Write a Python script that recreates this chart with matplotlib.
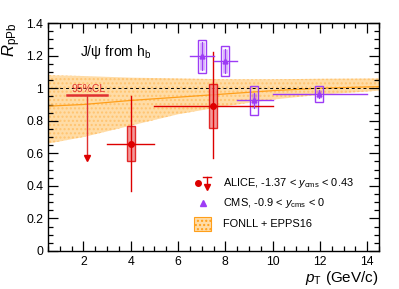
import matplotlib
matplotlib.use("Agg")
import matplotlib.pyplot as plt
from matplotlib.patches import Rectangle
from matplotlib.ticker import MultipleLocator
import numpy as np

plt.rcParams['font.family'] = ['Liberation Sans', 'DejaVu Sans']
plt.rcParams['mathtext.fontset'] = 'custom'
plt.rcParams['mathtext.rm'] = 'Liberation Sans'
plt.rcParams['mathtext.it'] = 'Liberation Sans:italic'

# ---- data ----
# FONLL + EPPS16 band
fonll_pt = [0.5, 2, 4, 6, 8, 10, 12, 14.5]
fonll_hi = [1.08, 1.075, 1.065, 1.06, 1.055, 1.055, 1.058, 1.06]
fonll_lo = [0.66, 0.70, 0.77, 0.84, 0.89, 0.93, 0.96, 0.985]
fonll_c = [0.89, 0.90, 0.925, 0.945, 0.965, 0.985, 1.0, 1.01]

# ALICE measurements
alice_pt = [4.0, 7.47]
alice_ptlo = [3.0, 5.0]
alice_pthi = [5.0, 10.0]
alice_val = [0.66, 0.89]
alice_stat_up = [0.29, 0.33]
alice_stat_dn = [0.29, 0.32]
alice_syst = [0.105, 0.137]
# ALICE upper limit (95% CL)
ul_pt = 2.17
ul_lo, ul_hi = 1.3, 3.0
ul_val = 0.957
ul_arrow = 0.55

# CMS measurements
cms_pt = [7.0, 7.98, 9.21, 11.97]
cms_ptlo = [6.5, 7.5, 8.5, 10.0]
cms_pthi = [7.5, 8.5, 10.0, 14.0]
cms_val = [1.196, 1.167, 0.926, 0.967]
cms_stat = [0.085, 0.075, 0.045, 0.025]
cms_syst = [0.10, 0.09, 0.09, 0.049]

red = '#dd0000'
purple = '#9d3cf5'
orange = '#ff9f1a'

fig = plt.figure(figsize=(3.99, 2.89), dpi=100)
ax = fig.add_axes([0.1203, 0.1315, 0.8297, 0.7885])

# band
ax.fill_between(fonll_pt, fonll_lo, fonll_hi, facecolor='#ffdca6', edgecolor='#ffc470',
                hatch='....', linewidth=0, zorder=1)
ax.plot(fonll_pt, fonll_c, color=orange, lw=0.9, zorder=2)

ax.axhline(1.0, color='black', ls=(0, (3, 3)), lw=0.7, zorder=3)

# ALICE upper limit
ax.plot([ul_lo, ul_hi], [ul_val, ul_val], color='#e03030', lw=1.8, zorder=4)
ax.plot([ul_pt, ul_pt], [ul_val, ul_arrow + 0.03], color='#e03030', lw=1.0, zorder=4)
ax.plot([ul_pt], [ul_arrow + 0.02], marker='v', ms=5, color=red, ls='none', zorder=5)
ax.text(1.48, 0.962, '95%CL', color='#e03030', fontsize=7.5, ha='left', va='bottom', zorder=5)

# ALICE points
for i in range(len(alice_pt)):
    ax.add_patch(Rectangle((alice_pt[i] - 0.16, alice_val[i] - alice_syst[i]), 0.32,
                           2 * alice_syst[i], facecolor='#f08080', edgecolor=red,
                           lw=1.0, alpha=0.8, zorder=4))
    ax.plot([alice_ptlo[i], alice_pthi[i]], [alice_val[i]] * 2, color=red, lw=1.0, zorder=5)
    ax.plot([alice_pt[i]] * 2, [alice_val[i] - alice_stat_dn[i], alice_val[i] + alice_stat_up[i]],
            color=red, lw=1.0, zorder=5)
    ax.plot([alice_pt[i]], [alice_val[i]], marker='o', ms=4, color=red, zorder=6)

# CMS points
for i in range(len(cms_pt)):
    ax.add_patch(Rectangle((cms_pt[i] - 0.17, cms_val[i] - cms_syst[i]), 0.34,
                           2 * cms_syst[i], facecolor='none', edgecolor=purple,
                           lw=1.0, zorder=4))
    ax.plot([cms_pt[i]] * 2, [cms_val[i] - cms_stat[i], cms_val[i] + cms_stat[i]],
            color=purple, lw=3.5, alpha=0.4, solid_capstyle='butt', zorder=4)
    ax.plot([cms_ptlo[i], cms_pthi[i]], [cms_val[i]] * 2, color=purple, lw=1.0, zorder=5)
    ax.plot([cms_pt[i]] * 2, [cms_val[i] - cms_stat[i], cms_val[i] + cms_stat[i]],
            color=purple, lw=0.8, zorder=5)
    ax.plot([cms_pt[i]], [cms_val[i]], marker='^', ms=3.5, color=purple, zorder=6)

ax.set_xlim(0.5, 14.5)
ax.set_ylim(0, 1.4)
ax.xaxis.set_major_locator(MultipleLocator(2))
ax.xaxis.set_minor_locator(MultipleLocator(0.5))
ax.yaxis.set_major_locator(MultipleLocator(0.2))
ax.yaxis.set_minor_locator(MultipleLocator(0.05))
ax.yaxis.set_major_formatter(matplotlib.ticker.FuncFormatter(lambda v, p: ('%g' % round(v, 2))))
ax.tick_params(which='both', direction='in', top=True, right=True, labelsize=8.8, width=0.9)
ax.tick_params(which='major', length=7)
ax.tick_params(which='minor', length=3.5)
for s in ax.spines.values():
    s.set_linewidth(1.0)

ax.text(1.87, 1.20, r'J/$\mathrm{\psi}$ from h$_{\rm b}$', fontsize=10, ha='left', va='baseline')

ax.set_xlabel(r'$p_{\rm T}$ (GeV/c)', fontsize=11, loc='right', labelpad=1)
ax.set_ylabel(r'$R_{\rm pPb}$', fontsize=12, loc='top', labelpad=2)

# legend (drawn in axes coordinates)
tr = ax.transAxes
ax.plot([0.453], [0.298], marker='o', ms=4, color=red, transform=tr, clip_on=False)
ax.plot([0.480, 0.480], [0.325, 0.285], color=red, lw=1.0, transform=tr)
ax.plot([0.468, 0.492], [0.325, 0.325], color=red, lw=1.0, transform=tr)
ax.plot([0.480], [0.28], marker='v', ms=4, color=red, transform=tr)
ax.plot([0.468], [0.211], marker='^', ms=4, color=purple, transform=tr)
ax.add_patch(Rectangle((0.441, 0.088), 0.051, 0.061, transform=tr, facecolor='#ffdca6',
                       edgecolor=orange, hatch='....', lw=0.8))
ax.text(0.529, 0.298, r'ALICE, -1.37 < $y_{\rm cms}$ < 0.43', transform=tr, fontsize=7.9,
        va='center', ha='left')
ax.text(0.529, 0.211, r'CMS, -0.9 < $y_{\rm cms}$ < 0', transform=tr, fontsize=7.9,
        va='center', ha='left')
ax.text(0.529, 0.118, 'FONLL + EPPS16', transform=tr, fontsize=7.9, va='center', ha='left')

fig.savefig('out.png', dpi=100)
